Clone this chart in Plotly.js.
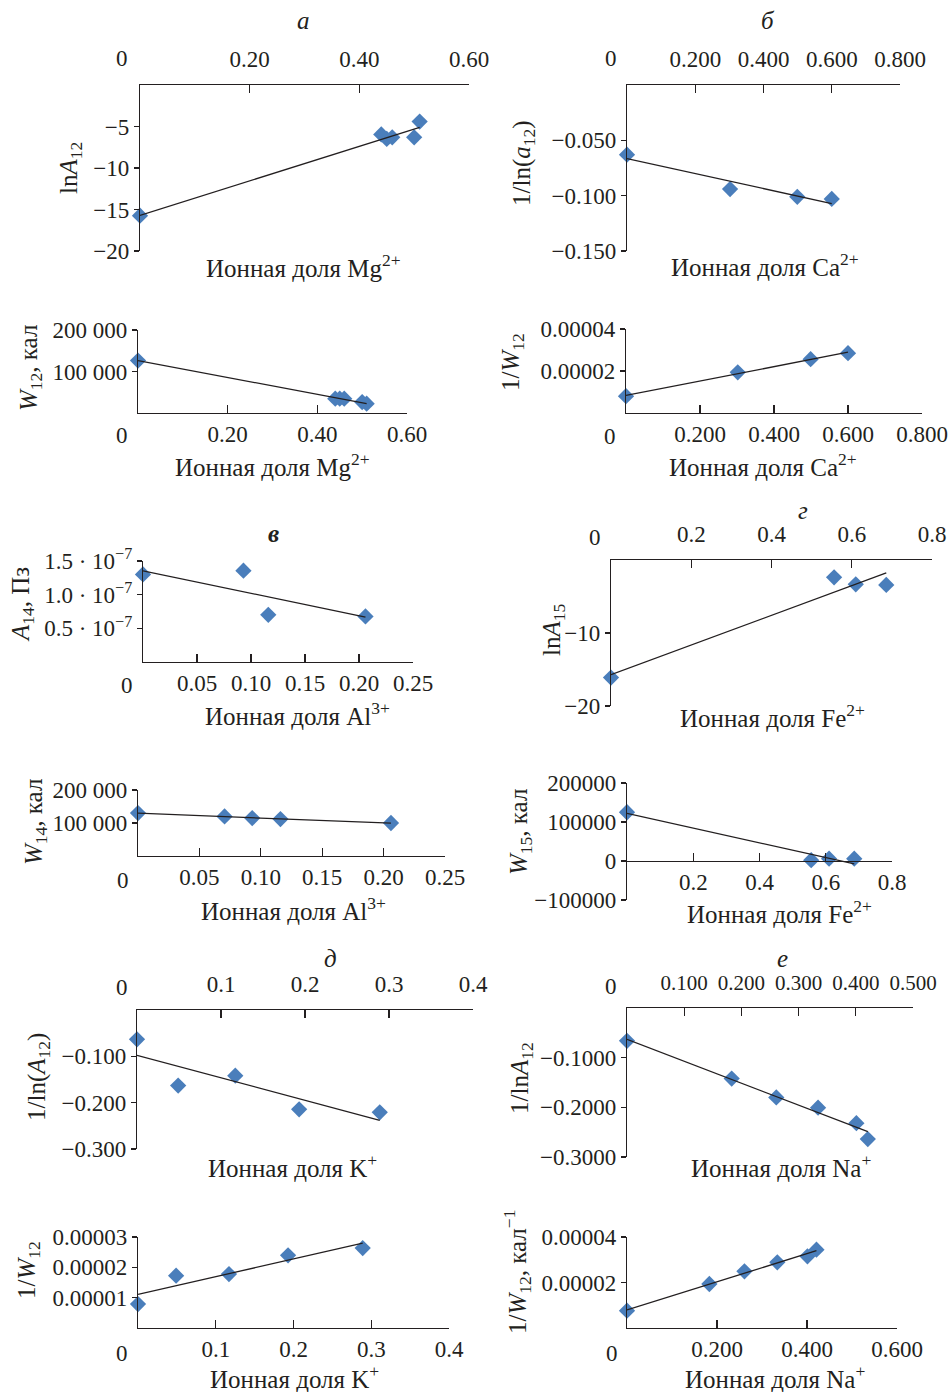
<!DOCTYPE html>
<html><head><meta charset="utf-8">
<script src="https://cdn.plot.ly/plotly-3.0.1.min.js"></script>
<style>html,body{margin:0;padding:0;background:#fff}</style>
</head><body><div id="chart" style="width:952px;height:1392px"></div>
<script>
// ---------- DATA ----------
// а: Mg2+
const mgX      = [0, 0.44, 0.45, 0.46, 0.50, 0.51];
const mgLnA12  = [-15.75, -5.95, -6.5, -6.3, -6.3, -4.4];
const mgW12    = [126400, 34400, 34400, 34400, 26400, 22400];
// б: Ca2+
const caX        = [0, 0.302, 0.499, 0.600];
const caInvLnA12 = [-0.063, -0.094, -0.101, -0.103];
const caInvW12   = [8.0e-6, 1.94e-5, 2.56e-5, 2.85e-5];
// в: Al3+
const alXA  = [0, 0.093, 0.116, 0.206];
const alA14 = [1.30e-7, 1.357e-7, 0.70e-7, 0.676e-7];
const alXW  = [0, 0.0705, 0.093, 0.116, 0.206];
const alW14 = [130000, 120000, 115000, 112000, 100000];
// г: Fe2+
const feX     = [0, 0.556, 0.610, 0.686];
const feLnA15 = [-16.1, -2.37, -3.33, -3.42];
const feW15   = [125000, 2000, 6000, 6000];
// д: K+
const kX        = [0, 0.049, 0.117, 0.193, 0.289];
const kInvLnA12 = [-0.0633, -0.163, -0.1417, -0.2144, -0.2209];
const kInvW12   = [7.9e-6, 1.725e-5, 1.78e-5, 2.396e-5, 2.637e-5];
// е: Na+
const naX        = [0, 0.183, 0.261, 0.334, 0.401, 0.421];
const naInvLnA12 = [-0.066, -0.142, -0.180, -0.2007, -0.232, -0.264];
const naInvW12   = [7.6e-6, 1.934e-5, 2.49e-5, 2.886e-5, 3.15e-5, 3.44e-5];

// ---------- TICKS ----------
const mgTickX = [0.2, 0.4, 0.6];            const mgTickXText = ['0.20', '0.40', '0.60'];
const lnA12TickY = [-5, -10, -15, -20];     const lnA12TickYText = ['−5', '−10', '−15', '−20'];
const wTickY = [100000, 200000];            const wTickYText = ['100 000', '200 000'];
const caTickX = [0.2, 0.4, 0.6, 0.8];       const caTickXText = ['0.200', '0.400', '0.600', '0.800'];
const caTickY = [-0.05, -0.1, -0.15];       const caTickYText = ['−0.050', '−0.100', '−0.150'];
const invW4TickY = [2e-5, 4e-5];            const invW4TickYText = ['0.00002', '0.00004'];
const alTickX = [0.05, 0.1, 0.15, 0.2, 0.25]; const alTickXText = ['0.05', '0.10', '0.15', '0.20', '0.25'];
const a14TickY = [0.5e-7, 1.0e-7, 1.5e-7];
const a14TickYText = ['0.5 · 10<sup>−7</sup>', '1.0 · 10<sup>−7</sup>', '1.5 · 10<sup>−7</sup>'];
const feTickX = [0.2, 0.4, 0.6, 0.8];       const feTickXText = ['0.2', '0.4', '0.6', '0.8'];
const lnA15TickY = [-10, -20];              const lnA15TickYText = ['−10', '−20'];
const w15TickY = [-100000, 0, 100000, 200000]; const w15TickYText = ['−100000', '0', '100000', '200000'];
const kTickX = [0.1, 0.2, 0.3, 0.4];        const kTickXText = ['0.1', '0.2', '0.3', '0.4'];
const kTickY = [-0.1, -0.2, -0.3];          const kTickYText = ['−0.100', '−0.200', '−0.300'];
const naTickX = [0.1, 0.2, 0.3, 0.4, 0.5];  const naTickXText = ['0.100', '0.200', '0.300', '0.400', '0.500'];
const naTickY = [-0.1, -0.2, -0.3];         const naTickYText = ['−0.1000', '−0.2000', '−0.3000'];
const kInvWTickY = [1e-5, 2e-5, 3e-5];      const kInvWTickYText = ['0.00001', '0.00002', '0.00003'];
const naTickX2 = [0.2, 0.4, 0.6];           const naTickX2Text = ['0.200', '0.400', '0.600'];

// ---------- STYLE / GEOMETRY ----------
const W = 952, H = 1392;
const FONT = 'Liberation Serif, "Times New Roman", serif';
const INK = '#231f20';
const BLUE = '#4a7ebb';
const FS = 23;      // tick labels
const FT = 25;      // titles
const fx = px => px / W;
const fy = py => 1 - py / H;

// box: [left, right, top, bottom] in pixels
const panels = [
  {x: mgX,  y: mgLnA12,    box: [140, 469, 85, 251],   xr: [0, 0.6],  yr: [-20, 0],    side: 'top',
   xt: mgTickX, xtt: mgTickXText, yt: lnA12TickY, ytt: lnA12TickYText, zero: [122, 59]},
  {x: mgX,  y: mgW12,      box: [138, 407, 330, 413],  xr: [0, 0.6],  yr: [0, 200000], side: 'bottom',
   xt: mgTickX, xtt: mgTickXText, yt: wTickY, ytt: wTickYText, zero: [122, 436]},
  {x: caX,  y: caInvLnA12, box: [627, 900, 85, 251],   xr: [0, 0.8],  yr: [-0.15, 0],  side: 'top',
   xt: caTickX, xtt: caTickXText, yt: caTickY, ytt: caTickYText, zero: [611, 59]},
  {x: caX,  y: caInvW12,   box: [626, 922, 329, 413],  xr: [0, 0.8],  yr: [0, 4e-5],   side: 'bottom',
   xt: caTickX, xtt: caTickXText, yt: invW4TickY, ytt: invW4TickYText, zero: [610, 437]},
  {x: alXA, y: alA14,      box: [143, 413, 561, 662],  xr: [0, 0.25], yr: [0, 1.5e-7], side: 'bottom',
   xt: alTickX, xtt: alTickXText, yt: a14TickY, ytt: a14TickYText, zero: [127, 685]},
  {x: feX,  y: feLnA15,    box: [611, 932, 560, 706],  xr: [0, 0.8],  yr: [-20, 0],    side: 'top',
   xt: feTickX, xtt: feTickXText, yt: lnA15TickY, ytt: lnA15TickYText, zero: [595, 537]},
  {x: alXW, y: alW14,      box: [138, 445, 790, 856],  xr: [0, 0.25], yr: [0, 200000], side: 'bottom',
   xt: alTickX, xtt: alTickXText, yt: wTickY, ytt: wTickYText, zero: [123, 880]},
  {x: feX,  y: feW15,      box: [627, 892, 783, 900],  xr: [0, 0.8],  yr: [-100000, 200000], side: 'bottom', cross0: true,
   xt: feTickX, xtt: feTickXText, yt: w15TickY, ytt: w15TickYText, zero: null},
  {x: kX,   y: kInvLnA12,  box: [137, 473, 1010, 1149], xr: [0, 0.4], yr: [-0.3, 0],   side: 'top',
   xt: kTickX, xtt: kTickXText, yt: kTickY, ytt: kTickYText, zero: [122, 987]},
  {x: naX,  y: naInvLnA12, box: [627, 913, 1008, 1157], xr: [0, 0.5], yr: [-0.3, 0],   side: 'top', xfs: 21,
   xt: naTickX, xtt: naTickXText, yt: naTickY, ytt: naTickYText, zero: [611, 986]},
  {x: kX,   y: kInvW12,    box: [138, 449, 1237, 1328], xr: [0, 0.4], yr: [0, 3e-5],   side: 'bottom',
   xt: kTickX, xtt: kTickXText, yt: kInvWTickY, ytt: kInvWTickYText, zero: [122, 1353]},
  {x: naX,  y: naInvW12,   box: [627, 897, 1237, 1328], xr: [0, 0.6], yr: [0, 4e-5],   side: 'bottom',
   xt: naTickX2, xtt: naTickX2Text, yt: invW4TickY, ytt: invW4TickYText, zero: [612, 1353]}
];

// texts: [text, xpx, ypx]
const xTitles = [
  ['Ионная доля Mg<sup>2+</sup>', 303, 266],
  ['Ионная доля Mg<sup>2+</sup>', 272, 465],
  ['Ионная доля Ca<sup>2+</sup>', 765, 265],
  ['Ионная доля Ca<sup>2+</sup>', 763, 465],
  ['Ионная доля Al<sup>3+</sup>', 297, 714],
  ['Ионная доля Fe<sup>2+</sup>', 772, 716],
  ['Ионная доля Al<sup>3+</sup>', 293, 909],
  ['Ионная доля Fe<sup>2+</sup>', 779, 912],
  ['Ионная доля K<sup>+</sup>', 292, 1166],
  ['Ионная доля Na<sup>+</sup>', 781, 1166],
  ['Ионная доля K<sup>+</sup>', 294, 1377],
  ['Ионная доля Na<sup>+</sup>', 775, 1377]
];
const yTitles = [
  ['ln<i>A</i><sub>12</sub>', 70, 168],
  ['<i>W</i><sub>12</sub>, кал', 30, 368],
  ['1/ln(<i>a</i><sub>12</sub>)', 523, 163],
  ['1/<i>W</i><sub>12</sub>', 513, 362],
  ['<i>A</i><sub>14</sub>, Пз', 22, 605],
  ['ln<i>A</i><sub>15</sub>', 553, 630],
  ['<i>W</i><sub>14</sub>, кал', 35, 822],
  ['<i>W</i><sub>15</sub>, кал', 520, 832],
  ['1/ln(<i>A</i><sub>12</sub>)', 38, 1077],
  ['1/ln<i>A</i><sub>12</sub>', 521, 1078],
  ['1/<i>W</i><sub>12</sub>', 28, 1270],
  ['1/<i>W</i><sub>12</sub>, кал<sup>−1</sup>', 517, 1272]
];
const letters = [['а', 303, 20], ['б', 768, 20], ['<b>в</b>', 273, 533], ['г', 803, 510], ['д', 330, 958], ['е', 782, 958]];

function linFit(xs, ys) {
  const n = xs.length;
  const mx = xs.reduce((a, b) => a + b, 0) / n;
  const my = ys.reduce((a, b) => a + b, 0) / n;
  let sxy = 0, sxx = 0;
  for (let i = 0; i < n; i++) { sxy += (xs[i] - mx) * (ys[i] - my); sxx += (xs[i] - mx) ** 2; }
  const b = sxy / sxx, a = my - b * mx;
  const x0 = Math.min(...xs), x1 = Math.max(...xs);
  return {x: [x0, x1], y: [a + b * x0, a + b * x1]};
}

const traces = [];
const layout = {
  width: W, height: H, margin: {l: 0, r: 0, t: 0, b: 0},
  paper_bgcolor: '#fff', plot_bgcolor: 'rgba(0,0,0,0)', showlegend: false,
  font: {family: FONT, size: FS, color: INK},
  annotations: []
};

panels.forEach((p, i) => {
  const n = i === 0 ? '' : String(i + 1);
  const xid = 'x' + n, yid = 'y' + n;
  const [L, R, T, B] = p.box;
  const f = linFit(p.x, p.y);
  traces.push({x: p.x, y: p.y, xaxis: xid, yaxis: yid, type: 'scatter', mode: 'markers',
    marker: {symbol: 'diamond', size: 12.5, color: BLUE}, cliponaxis: false, hoverinfo: 'skip'});
  traces.push({x: f.x, y: f.y, xaxis: xid, yaxis: yid, type: 'scatter', mode: 'lines',
    line: {color: INK, width: 1.3}, cliponaxis: false, hoverinfo: 'skip'});
  const common = {showline: true, linecolor: INK, linewidth: 1.2, showgrid: false, zeroline: false,
    tickcolor: INK, tickwidth: 1.2, tickmode: 'array', fixedrange: true};
  const xa = Object.assign({}, common, {
    domain: [fx(L), fx(R)], range: p.xr, anchor: yid, side: p.side,
    ticks: 'inside', ticklen: 8, tickvals: p.xt, ticktext: p.xtt,
    tickfont: {family: FONT, size: p.xfs || FS, color: INK}
  });
  if (p.side === 'top') xa.ticklabelstandoff = 8;
  if (p.cross0) {
    const yb = fy(B), yt = fy(T);
    xa.anchor = 'free';
    xa.position = yb + (0 - p.yr[0]) / (p.yr[1] - p.yr[0]) * (yt - yb);
  }
  const ya = Object.assign({}, common, {
    domain: [fy(B), fy(T)], range: p.yr, anchor: xid,
    ticks: 'outside', ticklen: 5, tickvals: p.yt, ticktext: p.ytt,
    tickfont: {family: FONT, size: FS, color: INK}
  });
  layout['xaxis' + n] = xa;
  layout['yaxis' + n] = ya;
  if (p.zero) {
    layout.annotations.push({text: '0', x: fx(p.zero[0]), y: fy(p.zero[1]), xref: 'paper', yref: 'paper',
      xanchor: 'center', yanchor: 'middle', showarrow: false, font: {family: FONT, size: FS, color: INK}});
  }
});

xTitles.forEach(t => layout.annotations.push({text: t[0], x: fx(t[1]), y: fy(t[2]), xref: 'paper', yref: 'paper',
  xanchor: 'center', yanchor: 'middle', showarrow: false, font: {family: FONT, size: FT, color: INK}}));
yTitles.forEach(t => layout.annotations.push({text: t[0], x: fx(t[1]), y: fy(t[2]), xref: 'paper', yref: 'paper',
  xanchor: 'center', yanchor: 'middle', textangle: -90, showarrow: false, font: {family: FONT, size: FT, color: INK}}));
letters.forEach(t => layout.annotations.push({text: '<i>' + t[0] + '</i>', x: fx(t[1]), y: fy(t[2]), xref: 'paper', yref: 'paper',
  xanchor: 'center', yanchor: 'middle', showarrow: false, font: {family: FONT, size: FT, color: INK}}));

Plotly.newPlot('chart', traces, layout, {staticPlot: true, displayModeBar: false});
</script></body></html>
